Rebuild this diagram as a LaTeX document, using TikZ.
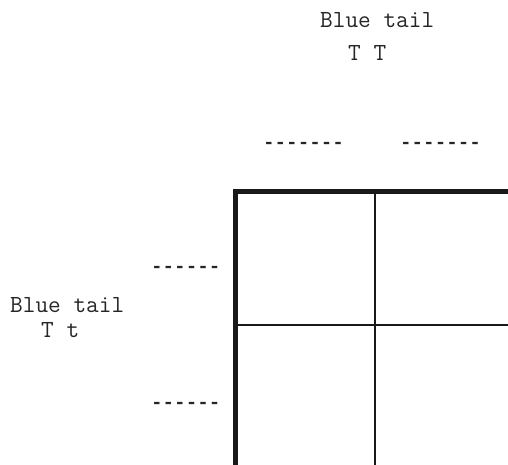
\documentclass[tikz,border=0pt]{standalone}
\usepackage{fontspec}
\newfontfamily\dashfont{Liberation Mono}
\tikzset{
  lbl/.style={font=\ttfamily\fontsize{24.6}{28}\selectfont, text=black!85, anchor=base west, inner sep=0pt},
  dsh/.style={font=\dashfont\bfseries\fontsize{19.2}{22}\selectfont, text=black!85, anchor=base west, inner sep=0pt},
  thickline/.style={line width=5pt, black!90},
  thinline/.style={line width=2.4pt, black!90}
}
\begin{document}
\begin{tikzpicture}[x=1pt,y=-1pt]
\useasboundingbox (0,0) rectangle (508,464);
% grid
\draw[thinline] (375,191) -- (375,470);
\draw[thinline] (235,325) -- (515,325);
\draw[thickline] (235,470) -- (235,191) -- (515,191);
% top labels
\node[lbl] (toptitle) at (320,27) {Blue tail};
\node[lbl] (topgeno) at (348,60) {T T};
\node[dsh] (topdashA) at (263,148.5) {-------};
\node[dsh] (topdashB) at (400,148.5) {-------};
% left labels
\node[lbl] (lefttitle) at (10,312) {Blue tail};
\node[lbl] (leftgeno) at (41,337) {T t};
\node[dsh] (leftdashA) at (151,272.5) {------};
\node[dsh] (leftdashB) at (151,408.5) {------};
\end{tikzpicture}
\end{document}
